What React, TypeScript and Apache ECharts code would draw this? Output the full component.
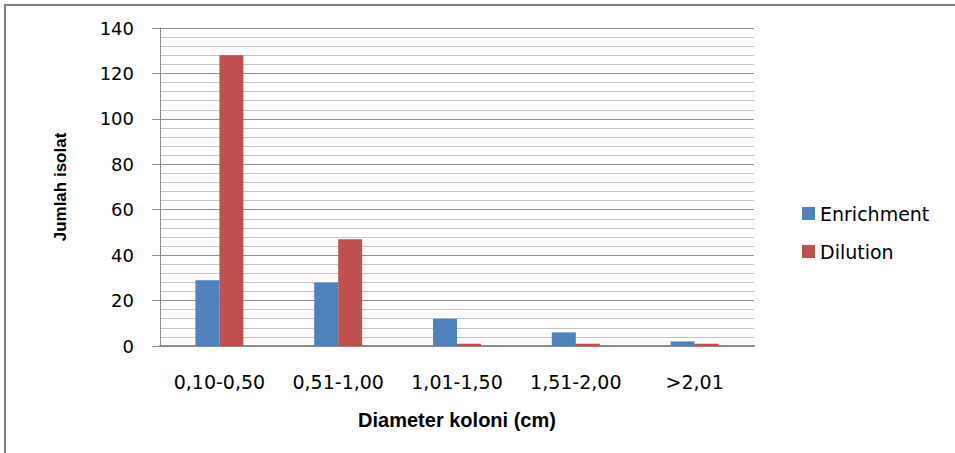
import React, { useEffect, useRef } from "react";
import * as echarts from "echarts";

const categories = ["0,10-0,50", "0,51-1,00", "1,01-1,50", "1,51-2,00", ">2,01"];
const enrichment = [29, 28, 12, 6, 2];
const dilution = [128, 47, 1, 1, 1];
const seriesNames = ["Enrichment", "Dilution"];
const yTitle = "Jumlah isolat";
const xTitle = "Diameter koloni (cm)";

export default function App() {
  const ref = useRef<HTMLDivElement>(null);
  useEffect(() => {
    if (!ref.current) return;
    const chart = echarts.init(ref.current, null, { renderer: "svg" });
    const font = "DejaVu Sans";
    chart.setOption({
      animation: false,
      backgroundColor: "#ffffff",
      grid: { left: 160, right: 201, top: 28, bottom: 107, containLabel: false },
      legend: {
        orient: "vertical",
        left: 797,
        top: 199,
        itemWidth: 13,
        itemHeight: 13,
        itemGap: 19,
        icon: "rect",
        textStyle: { fontFamily: font, fontSize: 19, color: "#000" },
        data: seriesNames,
      },
      xAxis: {
        type: "category",
        data: categories,
        name: xTitle,
        nameLocation: "middle",
        nameGap: 64,
        nameTextStyle: { fontFamily: "Liberation Sans", fontWeight: "bold", fontSize: 20, color: "#000" },
        axisLine: { show: true, lineStyle: { color: "#8c8c8c", width: 2 } },
        axisTick: { show: false },
        axisLabel: { fontFamily: font, fontSize: 19, color: "#000", margin: 26, interval: 0 },
        splitLine: { show: false },
      },
      yAxis: {
        type: "value",
        min: 0,
        max: 140,
        interval: 20,
        name: yTitle,
        nameLocation: "middle",
        nameGap: 91,
        nameRotate: 90,
        nameTextStyle: { fontFamily: "Liberation Sans", fontWeight: "bold", fontSize: 17, color: "#000" },
        axisLine: { show: true, lineStyle: { color: "#8c8c8c", width: 1 } },
        axisTick: { show: true, length: 8, lineStyle: { color: "#8c8c8c" } },
        axisLabel: { fontFamily: font, fontSize: 18, color: "#000", margin: 26 },
        splitLine: { show: true, lineStyle: { color: "#8c8c8c", width: 1 } },
        minorTick: { show: false, splitNumber: 5 },
        minorSplitLine: { show: true, lineStyle: { color: "#c4c4c4", width: 1 } },
      },
      series: [
        {
          name: seriesNames[0],
          type: "bar",
          data: enrichment,
          barWidth: 24,
          barGap: "0%",
          itemStyle: { color: "#4F81BD" },
        },
        {
          name: seriesNames[1],
          type: "bar",
          data: dilution,
          barWidth: 24,
          barGap: "0%",
          itemStyle: { color: "#C0504D" },
        },
      ],
      graphic: [
        { type: "line", shape: { x1: 4, y1: 5, x2: 955, y2: 5 }, style: { stroke: "#808080", lineWidth: 2 } },
        { type: "line", shape: { x1: 5, y1: 4, x2: 5, y2: 453 }, style: { stroke: "#808080", lineWidth: 2 } },
      ],
    });
    return () => chart.dispose();
  }, []);
  return (
    <div
      ref={ref}
      style={{ position: "absolute", left: 0, top: 0, width: 955, height: 453 }}
    />
  );
}
